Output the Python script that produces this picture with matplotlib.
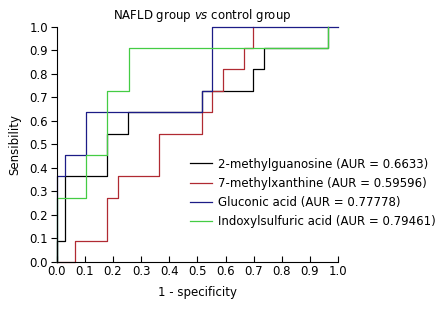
import numpy as np
import matplotlib.pyplot as plt

# ROC points (1 - specificity, sensitivity)
fpr_mg = [0, 0, 0.031, 0.031, 0.180, 0.180, 0.254, 0.254, 0.517, 0.517, 0.698, 0.698, 0.737, 0.737, 0.964, 0.964]
tpr_mg = [0, 0.091, 0.091, 0.364, 0.364, 0.545, 0.545, 0.636, 0.636, 0.727, 0.727, 0.818, 0.818, 0.909, 0.909, 1.0]

fpr_mx = [0, 0.066, 0.066, 0.180, 0.180, 0.219, 0.219, 0.363, 0.363, 0.517, 0.517, 0.552, 0.552, 0.591, 0.591, 0.666, 0.666, 0.698, 0.698]
tpr_mx = [0, 0, 0.091, 0.091, 0.273, 0.273, 0.364, 0.364, 0.545, 0.545, 0.636, 0.636, 0.727, 0.727, 0.818, 0.818, 0.909, 0.909, 1.0]

fpr_gl = [0, 0, 0.031, 0.031, 0.104, 0.104, 0.517, 0.517, 0.552, 0.552, 1.0]
tpr_gl = [0, 0.364, 0.364, 0.455, 0.455, 0.636, 0.636, 0.727, 0.727, 1.0, 1.0]

fpr_in = [0, 0, 0.104, 0.104, 0.179, 0.179, 0.257, 0.257, 0.964, 0.964]
tpr_in = [0, 0.273, 0.273, 0.455, 0.455, 0.727, 0.727, 0.909, 0.909, 1.0]

labels = ["2-methylguanosine (AUR = 0.6633)",
          "7-methylxanthine (AUR = 0.59596)",
          "Gluconic acid (AUR = 0.77778)",
          "Indoxylsulfuric acid (AUR = 0.79461)"]
colors = ["#000000", "#b02a32", "#1c1c86", "#44cc44"]

fig = plt.figure(figsize=(4.45, 3.09), dpi=100)
ax = fig.add_axes([0.127, 0.152, 0.633, 0.762])

curves = [(fpr_mg, tpr_mg), (fpr_mx, tpr_mx), (fpr_gl, tpr_gl), (fpr_in, tpr_in)]
for (x, y), c, lab in zip(curves, colors, labels):
    ax.plot(x, y, color=c, lw=0.9, label=lab, clip_on=False)

ax.set_xlim(0, 1.0)
ax.set_ylim(0, 1.0)
ticks = np.round(np.arange(0, 1.01, 0.1), 1)
ax.set_xticks(ticks)
ax.set_yticks(ticks)
ax.set_xticklabels(["%.1f" % t for t in ticks])
ax.set_yticklabels(["%.1f" % t for t in ticks])
ax.tick_params(axis="x", direction="in", length=4, width=0.8, labelsize=8.5, pad=2)
ax.tick_params(axis="y", direction="out", length=4, width=0.8, labelsize=8.5, pad=2)
for s in ["top", "right"]:
    ax.spines[s].set_visible(False)
for s in ["left", "bottom"]:
    ax.spines[s].set_linewidth(0.8)

ax.set_xlabel("1 - specificity", fontsize=8.5, labelpad=6)
ax.set_ylabel("Sensibility", fontsize=8.5, labelpad=6)
fig.text(0.455, 0.95, r"NAFLD group $\mathit{vs}$ control group", fontsize=8.5,
         ha="center", va="center")

fig.legend(loc="upper left", bbox_to_anchor=(0.428, 0.49), frameon=False,
           fontsize=8.5, handlelength=1.8, handletextpad=0.5, labelspacing=0.52,
           borderpad=0, borderaxespad=0)

fig.savefig("out.png", dpi=100)
